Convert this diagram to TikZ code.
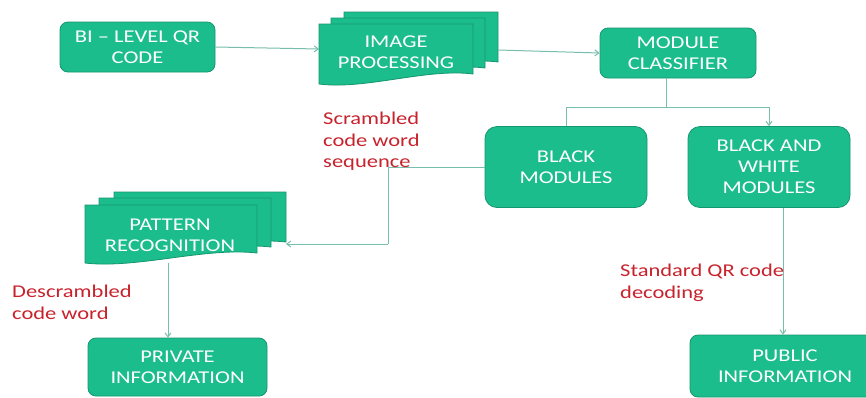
\documentclass[tikz,border=0pt]{standalone}
\usepackage{fontspec}
\setmainfont{Carlito}[FakeStretch=1.25]
\usetikzlibrary{arrows.meta}
\definecolor{boxgreen}{RGB}{28,189,140}
\definecolor{boxedge}{RGB}{20,150,110}
\definecolor{linec}{RGB}{120,190,172}
\definecolor{labred}{RGB}{200,35,45}
\newcommand\mydoc[4]{\path[docstyle] (#1,#2) -- (#3,#2) -- (#3,{#4-10}) .. controls ({#1+0.7*(#3-#1)},{#4-16}) and ({#1+0.3*(#3-#1)},{#4+6}) .. (#1,#4) -- cycle;}
\begin{document}
\begin{tikzpicture}[x=1pt,y=-1pt,
 box/.style={draw=boxedge, line width=0.8pt, fill=boxgreen, rounded corners=8pt, text=white, font=\fontsize{18}{21}\selectfont, align=center, inner sep=0pt},
 docstyle/.style={draw=boxedge, line width=0.8pt, fill=boxgreen},
 doctext/.style={text=white, font=\fontsize{18}{21}\selectfont, align=center, inner sep=0pt},
 conn/.style={draw=linec, line width=1pt},
 arr/.style={conn, -{Straight Barb[length=4pt,width=6pt]}},
 lab/.style={text=labred, font=\fontsize{18}{21.5}\selectfont, align=left, anchor=north west, inner sep=0pt}]
\fill[white] (0,0) rectangle (866,397);
\useasboundingbox (0,0) rectangle (866,397);

% image processing stack
\mydoc{344}{12}{498}{72}
\mydoc{331}{18}{485}{78}
\mydoc{319}{24}{473}{84}
\node[doctext] (ip) at (396,52) {IMAGE\\PROCESSING};
\coordinate (ipin) at (319,49);
\coordinate (ipout) at (498,50);

% pattern recognition stack
\mydoc{114}{192}{286}{252}
\mydoc{99}{198}{271}{257}
\mydoc{85}{205}{257}{263}
\node[doctext] (pr) at (170,235) {PATTERN\\RECOGNITION};
\coordinate (prin) at (286,244);
\coordinate (prout) at (168,263);

\node[box, minimum width=155pt, minimum height=50pt] (bilevel) at (137.5,47) {BI – LEVEL QR\\CODE};
\node[box, minimum width=156pt, minimum height=50pt] (classifier) at (678,53) {MODULE\\CLASSIFIER};
\node[box, minimum width=162pt, minimum height=81pt, rounded corners=12pt] (black) at (566,167) {BLACK\\MODULES};
\node[box, minimum width=162pt, minimum height=81pt, rounded corners=12pt] (bw) at (769,167) {BLACK AND\\WHITE\\MODULES};
\node[box, minimum width=179pt, minimum height=58pt] (private) at (177.5,367) {PRIVATE\\INFORMATION};
\node[box, minimum width=190pt, minimum height=62pt] (public) at (785,366) {PUBLIC\\INFORMATION};

\coordinate (split) at (666,107);
\coordinate (cdown) at (666,78);
\coordinate (bend1) at (388,167);
\coordinate (bend2) at (388,244);

\draw[arr] (bilevel.east) -- (ipin);
\draw[arr] (ipout) -- (classifier.west);
\draw[conn] (cdown) -- (split);
\draw[conn] (split) -| (black.north);
\draw[arr] (split) -| (bw.north);
\draw[conn] (black.west) -- (bend1) -- (bend2);
\draw[arr] (bend2) -- (prin);
\draw[arr] (prout) -- (private.north -| prout);
\draw[arr] ([xshift=14pt]bw.south) -- ([xshift=-2pt]public.north);

\node[lab] (l1) at (323,112) {Scrambled\\code word\\sequence};
\node[lab] (l2) at (12,285) {Descrambled\\code word};
\node[lab] (l3) at (620,264) {Standard QR code\\decoding};
\end{tikzpicture}
\end{document}
